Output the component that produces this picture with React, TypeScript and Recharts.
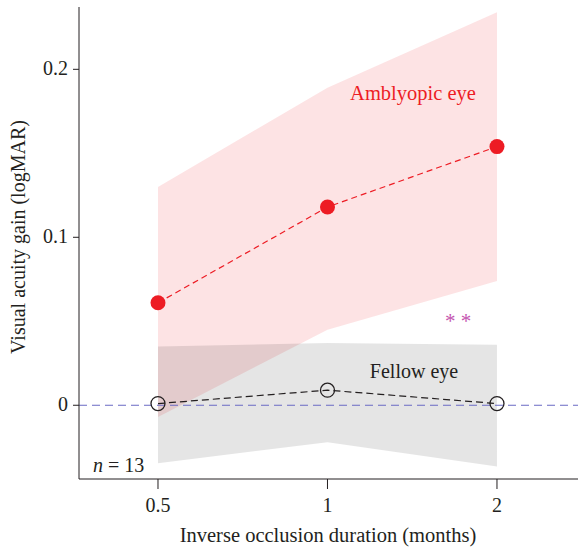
import {
  ComposedChart,
  Area,
  Line,
  XAxis,
  YAxis,
  ReferenceLine,
} from 'recharts';

const durations = ['0.5', '1', '2'];
const amblyMean = [0.061, 0.118, 0.154];
const amblyLow = [-0.007, 0.045, 0.074];
const amblyHigh = [0.13, 0.189, 0.234];
const fellowMean = [0.001, 0.009, 0.001];
const fellowLow = [-0.0345, -0.022, -0.0365];
const fellowHigh = [0.035, 0.037, 0.036];
const yTicks = [0, 0.1, 0.2];

const data = durations.map((d, i) => ({
  x: i,
  label: d,
  ambly: amblyMean[i],
  amblyBand: [amblyLow[i], amblyHigh[i]],
  fellow: fellowMean[i],
  fellowBand: [fellowLow[i], fellowHigh[i]],
}));

const font = '"Liberation Serif", "DejaVu Serif", serif';
const ink = '#231f20';
const red = '#ed1c24';

// tick text drawn by hand so the serif face sticks
function XTick(props: any) {
  const { x, y, payload } = props;
  return (
    <text x={x} y={y + 21} textAnchor="middle" fontFamily={font} fontSize={20} fill={ink}>
      {durations[payload.value]}
    </text>
  );
}

function YTick(props: any) {
  const { x, y, payload } = props;
  return (
    <text x={x - 3} y={y + 6} textAnchor="end" fontFamily={font} fontSize={20} fill={ink}>
      {String(payload.value)}
    </text>
  );
}

export default function App() {
  return (
    <div style={{ position: 'absolute', left: 0, top: 0, width: 578, height: 548, fontFamily: font }}>
      <ComposedChart
        width={578}
        height={548}
        data={data}
        margin={{ top: 7, right: 0, bottom: 0, left: 0 }}
      >
        <XAxis
          type="number"
          dataKey="x"
          domain={[-0.466, 2.478]}
          ticks={[0, 1, 2]}
          allowDataOverflow
          height={69}
          stroke={ink}
          tickSize={10}
          tick={<XTick />}
        />
        <YAxis
          type="number"
          domain={[-0.0439, 0.2371]}
          ticks={yTicks}
          allowDataOverflow
          width={79}
          stroke={ink}
          tickSize={6}
          tick={<YTick />}
        />
        <Area
          dataKey="amblyBand"
          type="linear"
          fill={red}
          fillOpacity={0.12}
          stroke="none"
          isAnimationActive={false}
        />
        <Area
          dataKey="fellowBand"
          type="linear"
          fill="#000"
          fillOpacity={0.1}
          stroke="none"
          isAnimationActive={false}
        />
        <ReferenceLine y={0} stroke="#6a6ac4" strokeDasharray="8 5" strokeWidth={1} />
        <Line
          dataKey="fellow"
          type="linear"
          stroke={ink}
          strokeWidth={1.2}
          strokeDasharray="7 4"
          dot={{ r: 7, fill: 'none', stroke: ink, strokeWidth: 1.3, strokeDasharray: '0' }}
          isAnimationActive={false}
        />
        <Line
          dataKey="ambly"
          type="linear"
          stroke={red}
          strokeWidth={1.2}
          strokeDasharray="6 4"
          dot={{ r: 7.5, fill: red, stroke: 'none', strokeDasharray: '0' }}
          isAnimationActive={false}
        />
      </ComposedChart>
      <svg
        width={578}
        height={548}
        style={{ position: 'absolute', left: 0, top: 0, pointerEvents: 'none' }}
        fontFamily={font}
      >
        <text x={413} y={100} textAnchor="middle" fontSize={20.5} fill={red}>
          Amblyopic eye
        </text>
        <text x={414} y={378} textAnchor="middle" fontSize={20} fill={ink}>
          Fellow eye
        </text>
        <text x={458} y={328} textAnchor="middle" fontSize={21} fill="#c455b0">
          * *
        </text>
        <text x={93} y={472} fontSize={20} fill={ink}>
          <tspan fontStyle="italic">n</tspan> = 13
        </text>
        <text x={328} y={542} textAnchor="middle" fontSize={20.5} fill={ink}>
          Inverse occlusion duration (months)
        </text>
        <text
          x={25}
          y={237}
          textAnchor="middle"
          fontSize={20}
          fill={ink}
          transform="rotate(-90 25 237)"
        >
          Visual acuity gain (logMAR)
        </text>
      </svg>
    </div>
  );
}
